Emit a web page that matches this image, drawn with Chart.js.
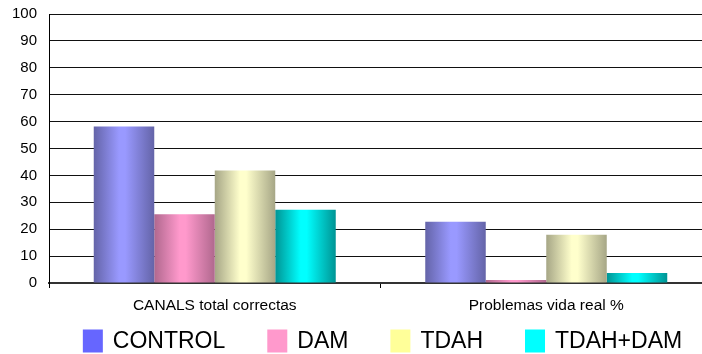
<!DOCTYPE html>
<html>
<head>
<meta charset="utf-8">
<script src="https://cdn.jsdelivr.net/npm/chart.js@4/dist/chart.umd.min.js"></script>
<style>
  html, body { margin: 0; padding: 0; background: #fff; overflow: hidden; }
  #wrap { width: 702px; height: 354px; overflow: hidden; }
  canvas { display: block; }
</style>
</head>
<body>
<div id="wrap"><canvas id="chart" width="716" height="354"></canvas></div>
<script>
// Categories and per-group values
const categories = ['CANALS total correctas', 'Problemas vida real %'];
const seriesNames = ['CONTROL', 'DAM', 'TDAH', 'TDAH+DAM'];
const controlValues = [58.2, 22.8];
const damValues = [25.6, 1.1];
const tdahValues = [41.8, 17.9];
const tdahDamValues = [27.2, 3.7];
const yTickValues = [0, 10, 20, 30, 40, 50, 60, 70, 80, 90, 100];

// Shading per series: edge tone, highlight tone, legend swatch
const palette = [
  { edge: '#6464A8', light: '#9999FF', swatch: '#6666FF' },
  { edge: '#B0688E', light: '#FF99CC', swatch: '#FF99CC' },
  { edge: '#A6A686', light: '#FFFFCC', swatch: '#FFFF99' },
  { edge: '#009494', light: '#00FFFF', swatch: '#00FFFF' }
];

const FONT = "'Liberation Sans', Arial, sans-serif";
const seriesValues = [controlValues, damValues, tdahValues, tdahDamValues];

const datasets = seriesNames.map((name, i) => ({
  label: name,
  data: seriesValues[i],
  backgroundColor: () => palette[i].swatch,
  borderWidth: 0,
  barPercentage: 1.0,
  categoryPercentage: 0.73
}));

// Cylinder-like horizontal shading on every bar
const barShading = {
  id: 'barShading',
  beforeDatasetsDraw(chart) {
    const ctx = chart.ctx;
    chart.data.datasets.forEach((ds, i) => {
      const meta = chart.getDatasetMeta(i);
      meta.data.forEach(bar => {
        const half = bar.width / 2;
        const g = ctx.createLinearGradient(bar.x - half, 0, bar.x + half, 0);
        g.addColorStop(0, palette[i].edge);
        g.addColorStop(0.42, palette[i].light);
        g.addColorStop(0.52, palette[i].light);
        g.addColorStop(1, palette[i].edge);
        bar.options.backgroundColor = g;
      });
    });
  }
};

// Wide legend row under the axis
const bottomLegend = {
  id: 'bottomLegend',
  afterDraw(chart) {
    const ctx = chart.ctx;
    const boxW = 20, boxH = 23, textGap = 10, itemGap = 42;
    const centerX = 382.5, centerY = 341;
    ctx.save();
    ctx.font = '23px ' + FONT;
    const widths = seriesNames.map(n => boxW + textGap + ctx.measureText(n).width);
    const total = widths.reduce((a, b) => a + b, 0) + itemGap * (widths.length - 1);
    let x = centerX - total / 2;
    ctx.textBaseline = 'middle';
    ctx.textAlign = 'left';
    seriesNames.forEach((n, i) => {
      ctx.fillStyle = palette[i].swatch;
      ctx.fillRect(x, centerY - boxH / 2, boxW, boxH);
      ctx.fillStyle = '#000';
      ctx.fillText(n, x + boxW + textGap, centerY + 1);
      x += widths[i] + itemGap;
    });
    ctx.restore();
  }
};

new Chart(document.getElementById('chart'), {
  type: 'bar',
  data: { labels: categories, datasets },
  options: {
    responsive: false,
    animation: false,
    events: [],
    layout: { padding: { top: 14, right: 4, bottom: 40, left: 0 } },
    plugins: { legend: { display: false }, tooltip: { enabled: false } },
    scales: {
      x: {
        offset: true,
        grid: {
          offset: true,
          drawOnChartArea: false,
          drawTicks: true,
          tickLength: 5,
          tickColor: '#000',
          tickWidth: 1
        },
        border: { display: true, color: '#333', width: 2 },
        ticks: { font: { family: FONT, size: 15.5 }, color: '#000', padding: 8 },
        afterFit: s => { s.height = 31; }
      },
      y: {
        min: 0,
        max: 100,
        afterBuildTicks: s => { s.ticks = yTickValues.map(v => ({ value: v })); },
        grid: { color: '#111', lineWidth: 1, drawTicks: false },
        border: { display: true, color: '#000', width: 1 },
        ticks: { font: { family: FONT, size: 15 }, color: '#000', padding: 12 },
        afterFit: s => { s.width = 49; s.paddingTop = 0; }
      }
    }
  },
  plugins: [barShading, bottomLegend]
});
</script>
</body>
</html>
